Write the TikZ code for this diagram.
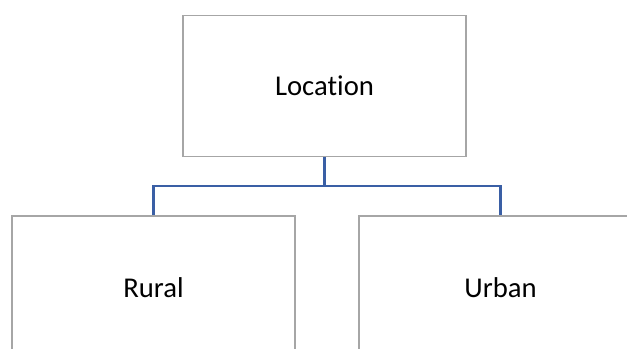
\documentclass[tikz,border=0pt]{standalone}
\usepackage{fontspec}
\setmainfont[Ligatures=NoCommon]{Carlito}
\definecolor{boxgray}{RGB}{166,166,166}
\definecolor{linkblue}{RGB}{58,95,165}
\begin{document}
\begin{tikzpicture}[x=0.75pt,y=0.75pt,yscale=-1,xscale=1,
  catbox/.style={draw=boxgray,line width=1pt,fill=white,minimum width=212.25pt,inner sep=0pt,font=\fontsize{21.5}{26}\selectfont},
  link/.style={draw=linkblue,line width=1.6pt}]
%set diagram left start at 0, and has height of 349
\useasboundingbox (0,0) rectangle (627,349);

% Top box
\node [catbox,minimum height=105.75pt] (loc) at (324.5,86) {Location};
% Bottom boxes
\node [catbox,minimum height=108pt] (rural) at (153.5,288) {Rural};
\node [catbox,minimum height=108pt] (urban) at (500.5,288) {Urban};

% Connectors
\coordinate (bus) at (324.5,186);
\draw [link] (loc.south) -- (bus) -| (rural.north);
\draw [link] (bus) -| (urban.north);

\end{tikzpicture}
\end{document}
